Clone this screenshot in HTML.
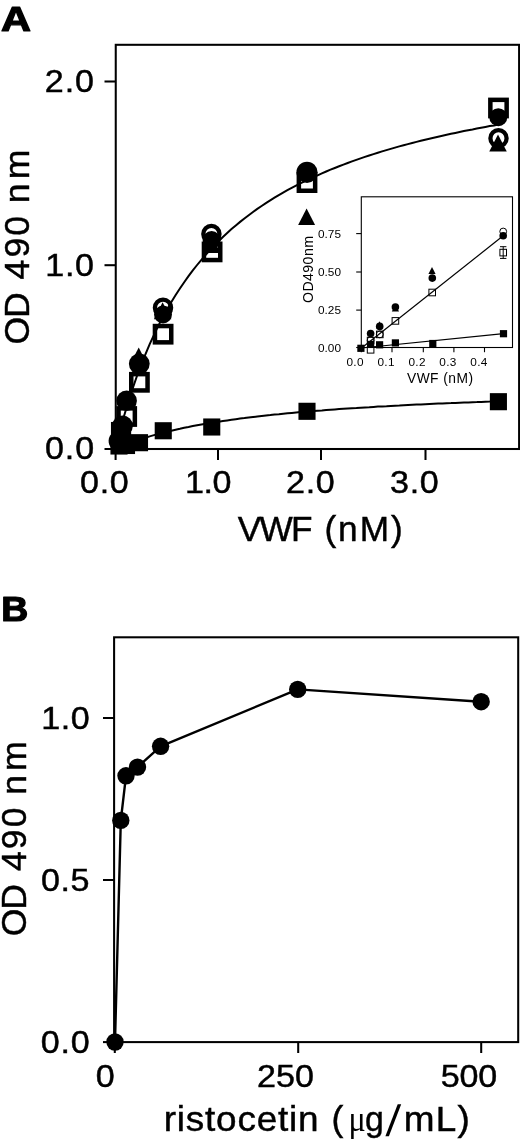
<!DOCTYPE html>
<html><head><meta charset="utf-8"><title>Figure</title>
<style>html,body{margin:0;padding:0;background:#fff}svg{display:block;will-change:transform}</style></head>
<body>
<svg width="520" height="1139" viewBox="0 0 520 1139" style="font-family:'Liberation Sans',sans-serif" fill="#000">
<rect width="520" height="1139" fill="#fff"/>
<rect x="115.75" y="44.8" width="403.35" height="404.20" fill="none" stroke="#000" stroke-width="2.05"/>
<line x1="104.5" y1="81.5" x2="115.75" y2="81.5" stroke="#000" stroke-width="2.05"/>
<line x1="104.5" y1="265.2" x2="115.75" y2="265.2" stroke="#000" stroke-width="2.05"/>
<line x1="104.5" y1="449.0" x2="115.75" y2="449.0" stroke="#000" stroke-width="2.05"/>
<line x1="115.6" y1="449.0" x2="115.6" y2="460" stroke="#000" stroke-width="2.05"/>
<line x1="218" y1="449.0" x2="218" y2="460" stroke="#000" stroke-width="2.05"/>
<line x1="321" y1="449.0" x2="321" y2="460" stroke="#000" stroke-width="2.05"/>
<line x1="425.5" y1="449.0" x2="425.5" y2="460" stroke="#000" stroke-width="2.05"/>
<text x="0.9" y="30.6" font-size="34.2" textLength="30" lengthAdjust="spacingAndGlyphs" font-weight="bold" stroke="#000" stroke-width="1.2" stroke-linejoin="round">A</text>
<text transform="translate(44.79 92.4) scale(1.1 1)" font-size="31" letter-spacing="0.84" stroke="#000" stroke-width="0.45">2.0</text>
<text transform="translate(45.30 276.4) scale(1.1 1)" font-size="31" letter-spacing="0.60" stroke="#000" stroke-width="0.45">1.0</text>
<text transform="translate(44.97 459.3) scale(1.1 1)" font-size="31" letter-spacing="0.85" stroke="#000" stroke-width="0.45">0.0</text>
<text transform="translate(79.97 493) scale(1.1 1)" font-size="31" letter-spacing="0.66" stroke="#000" stroke-width="0.45">0.0</text>
<text transform="translate(184.90 493) scale(1.1 1)" font-size="31" letter-spacing="-0.35" stroke="#000" stroke-width="0.45">1.0</text>
<text transform="translate(285.99 493) scale(1.1 1)" font-size="31" letter-spacing="0.65" stroke="#000" stroke-width="0.45">2.0</text>
<text transform="translate(390.00 493) scale(1.1 1)" font-size="31" letter-spacing="0.65" stroke="#000" stroke-width="0.45">3.0</text>
<text transform="translate(237.85 540.8) scale(1.0 1)" font-size="35.2" letter-spacing="-1.77" stroke="#000" stroke-width="0.45">VWF</text>
<text transform="translate(324.42 540.8) scale(1.0 1)" font-size="35.2" letter-spacing="1.97" stroke="#000" stroke-width="0.45">(nM)</text>
<text transform="translate(28.5 344.58) rotate(-90) scale(1.0 1)" font-size="35.5" letter-spacing="-1.07" stroke="#000" stroke-width="0.45">OD</text>
<text transform="translate(28.5 279.41) rotate(-90) scale(1.0 1)" font-size="35.5" letter-spacing="2.14" stroke="#000" stroke-width="0.45">490</text>
<text transform="translate(28.5 203.26) rotate(-90) scale(1.0 1)" font-size="35.5" letter-spacing="4.18" stroke="#000" stroke-width="0.45">nm</text>
<polyline points="115.3,448.9 119.6,432.0 123.9,416.5 128.2,402.2 132.5,388.9 136.8,376.5 141.1,365.0 145.4,354.3 149.7,344.2 154.0,334.8 158.3,325.9 162.6,317.5 166.9,309.7 171.2,302.2 175.5,295.2 179.9,288.5 184.2,282.2 188.5,276.2 192.8,270.4 197.1,265.0 201.4,259.8 205.7,254.8 210.0,250.0 214.3,245.5 218.6,241.2 222.9,237.0 227.2,233.0 231.5,229.1 235.8,225.4 240.1,221.9 244.4,218.5 248.7,215.2 253.0,212.0 257.3,208.9 261.6,206.0 265.9,203.1 270.2,200.4 274.5,197.7 278.8,195.1 283.1,192.6 287.4,190.2 291.7,187.9 296.0,185.6 300.3,183.4 304.6,181.3 309.0,179.2 313.3,177.2 317.6,175.3 321.9,173.4 326.2,171.5 330.5,169.7 334.8,168.0 339.1,166.3 343.4,164.6 347.7,163.0 352.0,161.4 356.3,159.9 360.6,158.4 364.9,156.9 369.2,155.5 373.5,154.1 377.8,152.8 382.1,151.4 386.4,150.1 390.7,148.9 395.0,147.6 399.3,146.4 403.6,145.2 407.9,144.1 412.2,143.0 416.5,141.9 420.8,140.8 425.1,139.7 429.4,138.7 433.7,137.7 438.1,136.7 442.4,135.7 446.7,134.7 451.0,133.8 455.3,132.9 459.6,132.0 463.9,131.1 468.2,130.2 472.5,129.4 476.8,128.5 481.1,127.7 485.4,126.9 489.7,126.1 494.0,125.4 498.3,124.6" fill="none" stroke="#000" stroke-width="2"/>
<polyline points="115.3,448.9 119.6,447.0 123.9,445.2 128.2,443.6 132.5,442.0 136.8,440.5 141.1,439.0 145.4,437.7 149.7,436.4 154.0,435.1 158.3,433.9 162.6,432.8 167.0,431.7 171.3,430.7 175.6,429.7 179.9,428.8 184.2,427.8 188.5,427.0 192.8,426.1 197.1,425.3 201.4,424.5 205.7,423.8 210.0,423.0 214.3,422.3 218.6,421.7 222.9,421.0 227.2,420.4 231.5,419.8 235.8,419.2 240.1,418.6 244.4,418.1 248.7,417.5 253.0,417.0 257.3,416.5 261.7,416.0 266.0,415.5 270.3,415.1 274.6,414.6 278.9,414.2 283.2,413.7 287.5,413.3 291.8,412.9 296.1,412.5 300.4,412.1 304.7,411.8 309.0,411.4 313.3,411.1 317.6,410.7 321.9,410.4 326.2,410.0 330.5,409.7 334.8,409.4 339.1,409.1 343.4,408.8 347.7,408.5 352.0,408.2 356.4,408.0 360.7,407.7 365.0,407.4 369.3,407.2 373.6,406.9 377.9,406.6 382.2,406.4 386.5,406.2 390.8,405.9 395.1,405.7 399.4,405.5 403.7,405.2 408.0,405.0 412.3,404.8 416.6,404.6 420.9,404.4 425.2,404.2 429.5,404.0 433.8,403.8 438.1,403.6 442.4,403.4 446.7,403.2 451.1,403.1 455.4,402.9 459.7,402.7 464.0,402.5 468.3,402.4 472.6,402.2 476.9,402.1 481.2,401.9 485.5,401.7 489.8,401.6 494.1,401.4 498.4,401.3" fill="none" stroke="#000" stroke-width="2"/>
<rect x="490.35" y="99.85" width="16.3" height="16.3" fill="none" stroke="#000" stroke-width="4.5"/>
<circle cx="498.3" cy="117.2" r="9" fill="#000"/>
<circle cx="498.5" cy="138.2" r="8.1" fill="none" stroke="#000" stroke-width="4.3"/>
<path d="M498 134.5L506.75 151.5L489.25 151.5Z" fill="#000"/>
<rect x="298.85" y="174.45" width="16.3" height="16.3" fill="none" stroke="#000" stroke-width="4.5"/>
<circle cx="307" cy="172.3" r="10.6" fill="#000"/>
<path d="M306.6 208.5L315.1 225.0L298.1 225.0Z" fill="#000"/>
<path d="M211.8 236L220.55 253L203.05 253Z" fill="#000"/>
<circle cx="211.4" cy="234" r="8.1" fill="none" stroke="#000" stroke-width="4.3"/>
<circle cx="211.6" cy="240" r="9" fill="#000"/>
<rect x="203.95" y="243.75" width="16.3" height="16.3" fill="none" stroke="#000" stroke-width="4.5"/>
<path d="M162.6 302.3L171.35 319.3L153.85 319.3Z" fill="#000"/>
<circle cx="163" cy="307.8" r="8.1" fill="none" stroke="#000" stroke-width="4.3"/>
<circle cx="163" cy="314.5" r="9" fill="#000"/>
<rect x="154.95" y="326.05" width="16.3" height="16.3" fill="none" stroke="#000" stroke-width="4.5"/>
<path d="M138.7 347.5L147.45 364.5L129.95 364.5Z" fill="#000"/>
<circle cx="139.3" cy="363.8" r="10.4" fill="#000"/>
<rect x="131.25" y="374.15" width="16.3" height="16.3" fill="none" stroke="#000" stroke-width="4.5"/>
<circle cx="126.6" cy="400.8" r="10.3" fill="#000"/>
<rect x="118.55" y="408.35" width="16.3" height="16.3" fill="none" stroke="#000" stroke-width="4.5"/>
<circle cx="122.5" cy="425.8" r="10.4" fill="#000"/>
<rect x="110.95" y="421.95" width="17.1" height="17.1" fill="#000"/>
<rect x="114.05" y="422.45" width="17.1" height="17.1" fill="#000"/>
<circle cx="119.2" cy="441" r="10.6" fill="#000"/>
<rect x="489.85" y="393.15" width="17.1" height="17.1" fill="#000"/>
<rect x="298.45" y="402.75" width="17.1" height="17.1" fill="#000"/>
<rect x="203.20" y="418.45" width="17.1" height="17.1" fill="#000"/>
<rect x="154.70" y="422.20" width="17.1" height="17.1" fill="#000"/>
<rect x="130.95" y="434.15" width="17.1" height="17.1" fill="#000"/>
<rect x="117.95" y="436.95" width="17.1" height="17.1" fill="#000"/>
<rect x="110.45" y="437.45" width="17.1" height="17.1" fill="#000"/>
<rect x="361.3" y="196.8" width="151.20" height="150.70" fill="#fff" stroke="#000" stroke-width="1.1"/>
<line x1="356.2" y1="233.6" x2="361.3" y2="233.6" stroke="#000" stroke-width="1.1"/>
<line x1="356.2" y1="272" x2="361.3" y2="272" stroke="#000" stroke-width="1.1"/>
<line x1="356.2" y1="310.1" x2="361.3" y2="310.1" stroke="#000" stroke-width="1.1"/>
<line x1="356.2" y1="347.5" x2="361.3" y2="347.5" stroke="#000" stroke-width="1.1"/>
<line x1="361.3" y1="347.5" x2="361.3" y2="352.2" stroke="#000" stroke-width="1.1"/>
<line x1="392" y1="347.5" x2="392" y2="352.2" stroke="#000" stroke-width="1.1"/>
<line x1="423.3" y1="347.5" x2="423.3" y2="352.2" stroke="#000" stroke-width="1.1"/>
<line x1="453.9" y1="347.5" x2="453.9" y2="352.2" stroke="#000" stroke-width="1.1"/>
<line x1="484.5" y1="347.5" x2="484.5" y2="352.2" stroke="#000" stroke-width="1.1"/>
<text x="318" y="237.6" font-size="11.8" textLength="23" lengthAdjust="spacing">0.75</text>
<text x="318" y="276.3" font-size="11.8" textLength="23" lengthAdjust="spacing">0.50</text>
<text x="318" y="313.6" font-size="11.8" textLength="23" lengthAdjust="spacing">0.25</text>
<text x="318" y="351.7" font-size="11.8" textLength="23" lengthAdjust="spacing">0.00</text>
<text x="346.5" y="365.6" font-size="11.8" textLength="17" lengthAdjust="spacing">0.0</text>
<text x="377.5" y="365.6" font-size="11.8" textLength="17" lengthAdjust="spacing">0.1</text>
<text x="408.5" y="365.6" font-size="11.8" textLength="17" lengthAdjust="spacing">0.2</text>
<text x="439.3" y="365.6" font-size="11.8" textLength="17" lengthAdjust="spacing">0.3</text>
<text x="470.3" y="365.6" font-size="11.8" textLength="17" lengthAdjust="spacing">0.4</text>
<text x="407" y="383.3" font-size="13.8" textLength="66" lengthAdjust="spacing">VWF (nM)</text>
<text x="313" y="303" font-size="14.2" textLength="67" lengthAdjust="spacing" transform="rotate(-90 313 303)">OD490nm</text>
<line x1="361.6" y1="348" x2="503.2" y2="235.8" stroke="#000" stroke-width="1.2"/>
<line x1="361.6" y1="348" x2="503.5" y2="333.7" stroke="#000" stroke-width="1.2"/>
<rect x="367.30" y="346.50" width="6.6" height="6.6" fill="none" stroke="#000" stroke-width="1"/>
<rect x="367.30" y="337.20" width="6.6" height="6.6" fill="none" stroke="#000" stroke-width="1"/>
<rect x="376.50" y="331.10" width="6.6" height="6.6" fill="none" stroke="#000" stroke-width="1"/>
<rect x="392.10" y="317.60" width="6.6" height="6.6" fill="none" stroke="#000" stroke-width="1"/>
<rect x="428.90" y="289.20" width="6.6" height="6.6" fill="none" stroke="#000" stroke-width="1"/>
<rect x="499.90" y="249.30" width="6.6" height="6.6" fill="none" stroke="#000" stroke-width="1"/>
<line x1="503.2" y1="246.7" x2="503.2" y2="258.4" stroke="#000" stroke-width="1"/>
<line x1="500" y1="246.7" x2="506.4" y2="246.7" stroke="#000" stroke-width="1"/>
<line x1="500" y1="258.4" x2="506.4" y2="258.4" stroke="#000" stroke-width="1"/>
<circle cx="370.6" cy="340.2" r="3.4" fill="none" stroke="#000" stroke-width="1"/>
<circle cx="379.8" cy="334.4" r="3.4" fill="none" stroke="#000" stroke-width="1"/>
<circle cx="503.2" cy="231.5" r="3.4" fill="none" stroke="#000" stroke-width="1"/>
<circle cx="370.6" cy="333.6" r="3.8" fill="#000"/>
<circle cx="379.7" cy="326.4" r="3.8" fill="#000"/>
<circle cx="395.4" cy="307.1" r="3.8" fill="#000"/>
<circle cx="432.3" cy="278.1" r="3.8" fill="#000"/>
<circle cx="503.2" cy="235.8" r="3.8" fill="#000"/>
<path d="M379.5 321.3L383.1 328.3L375.9 328.3Z" fill="#000"/>
<path d="M395.4 304.5L399.0 311.5L391.79999999999995 311.5Z" fill="#000"/>
<path d="M432 267L435.6 274L428.4 274Z" fill="#000"/>
<rect x="357.30" y="344.70" width="7.2" height="7.2" fill="#000"/>
<rect x="367.00" y="340.80" width="7.2" height="7.2" fill="#000"/>
<rect x="376.00" y="341.20" width="7.2" height="7.2" fill="#000"/>
<rect x="391.80" y="339.30" width="7.2" height="7.2" fill="#000"/>
<rect x="429.20" y="339.90" width="7.2" height="7.2" fill="#000"/>
<rect x="499.90" y="330.10" width="7.2" height="7.2" fill="#000"/>
<rect x="114.1" y="637.3" width="404.10" height="404.80" fill="none" stroke="#000" stroke-width="2.05"/>
<line x1="103" y1="718" x2="114.1" y2="718" stroke="#000" stroke-width="2.05"/>
<line x1="103" y1="880" x2="114.1" y2="880" stroke="#000" stroke-width="2.05"/>
<line x1="103" y1="1042.1" x2="114.1" y2="1042.1" stroke="#000" stroke-width="2.05"/>
<line x1="114.8" y1="1042.1" x2="114.8" y2="1053" stroke="#000" stroke-width="2.05"/>
<line x1="298.2" y1="1042.1" x2="298.2" y2="1053" stroke="#000" stroke-width="2.05"/>
<line x1="481.2" y1="1042.1" x2="481.2" y2="1053" stroke="#000" stroke-width="2.05"/>
<text x="1.2" y="620.9" font-size="34.2" textLength="27" lengthAdjust="spacingAndGlyphs" font-weight="bold" stroke="#000" stroke-width="1.2" stroke-linejoin="round">B</text>
<text transform="translate(41.20 729.2) scale(1.1 1)" font-size="31" letter-spacing="0.46" stroke="#000" stroke-width="0.45">1.0</text>
<text transform="translate(41.07 891.2) scale(1.1 1)" font-size="31" letter-spacing="0.48" stroke="#000" stroke-width="0.45">0.5</text>
<text transform="translate(40.67 1052.5) scale(1.1 1)" font-size="31" letter-spacing="0.71" stroke="#000" stroke-width="0.45">0.0</text>
<text transform="translate(95.67 1087) scale(1.1 1)" font-size="31" letter-spacing="0.00" stroke="#000" stroke-width="0.45">0</text>
<text transform="translate(257.09 1087) scale(1.1 1)" font-size="31" letter-spacing="-0.02" stroke="#000" stroke-width="0.45">250</text>
<text transform="translate(440.63 1087) scale(1.1 1)" font-size="31" letter-spacing="-0.09" stroke="#000" stroke-width="0.45">500</text>
<text transform="translate(26.4 936.18) rotate(-90) scale(1.0 1)" font-size="35.5" letter-spacing="-1.07" stroke="#000" stroke-width="0.45">OD</text>
<text transform="translate(26.4 871.01) rotate(-90) scale(1.0 1)" font-size="35.5" letter-spacing="2.14" stroke="#000" stroke-width="0.45">490</text>
<text transform="translate(26.4 794.86) rotate(-90) scale(1.0 1)" font-size="35.5" letter-spacing="4.18" stroke="#000" stroke-width="0.45">nm</text>
<text transform="translate(163.75 1131) scale(1.04 1)" font-size="35.5" letter-spacing="0.76" stroke="#000" stroke-width="0.45">ristocetin</text>
<text transform="translate(331.60 1131) scale(1.0 1)" font-size="35.5" letter-spacing="0.00" stroke="#000" stroke-width="0.45">(</text>
<text transform="translate(348.39 1131) scale(0.905 1)" font-size="35.5" letter-spacing="0.00" font-family="'Liberation Serif',serif">&#956;</text>
<text transform="translate(364.98 1131) scale(0.952 1)" font-size="35.5" letter-spacing="0.00" stroke="#000" stroke-width="0.45">g</text>
<path d="M385.4 1136.2L388.9 1136.2L401.2 1104.3L397.7 1104.3Z" fill="#000"/>
<text transform="translate(403.85 1131) scale(1.04 1)" font-size="35.5" letter-spacing="1.18" stroke="#000" stroke-width="0.45">mL)</text>
<polyline points="115,1042 120.8,820.4 126,775.8 137.5,767.1 160.6,746.3 297.7,689.4 481.15,701.7" fill="none" stroke="#000" stroke-width="2.4" stroke-linejoin="round"/>
<circle cx="115" cy="1042" r="8.7" fill="#000"/>
<circle cx="120.8" cy="820.4" r="8.7" fill="#000"/>
<circle cx="126" cy="775.8" r="8.7" fill="#000"/>
<circle cx="137.5" cy="767.1" r="8.7" fill="#000"/>
<circle cx="160.6" cy="746.3" r="8.7" fill="#000"/>
<circle cx="297.7" cy="689.4" r="8.7" fill="#000"/>
<circle cx="481.15" cy="701.7" r="8.7" fill="#000"/>
</svg>
</body></html>
